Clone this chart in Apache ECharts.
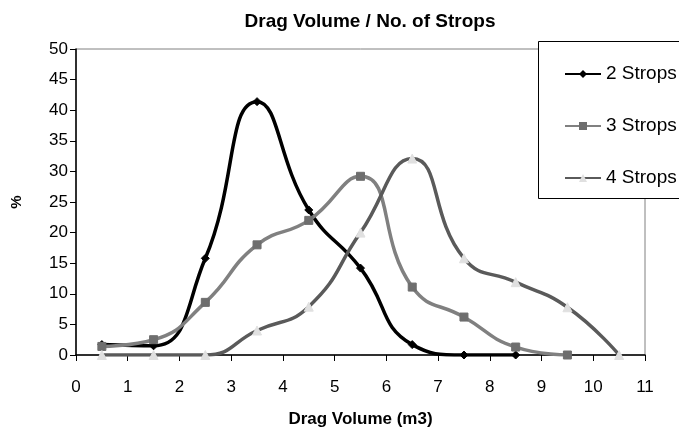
<!DOCTYPE html>
<html>
<head>
<meta charset="utf-8">
<script src="https://cdn.jsdelivr.net/npm/echarts@6/dist/echarts.min.js"></script>
<style>html,body{margin:0;padding:0;background:#fff}#c{width:679px;height:429px}</style>
</head>
<body>
<div id="c"></div>
<script>
var xValues = [0.5, 1.5, 2.5, 3.5, 4.5, 5.5, 6.5, 7.5, 8.5, 9.5, 10.5];
var strops2 = [1.7, 1.5, 15.8, 41.4, 23.7, 14.2, 1.7, 0, 0];
var strops3 = [1.4, 2.5, 8.6, 18.0, 22.0, 29.2, 11.1, 6.2, 1.3, 0];
var strops4 = [0, 0, 0, 4.0, 7.9, 20.0, 32.1, 15.8, 11.9, 7.8, 0];
var seriesNames = ['2 Strops', '3 Strops', '4 Strops'];

function pairs(vals) { return vals.map(function (v, i) { return [xValues[i], v]; }); }

var chart = echarts.init(document.getElementById('c'));
var font = 'Liberation Sans, Arial, sans-serif';
chart.setOption({
  animation: false,
  title: {
    text: 'Drag Volume / No. of Strops',
    left: 365, top: 7, textAlign: 'center',
    textStyle: { fontFamily: font, fontSize: 19, fontWeight: 'bold', color: '#000' }
  },
  grid: {
    left: 76, right: 34, top: 49, bottom: 74, show: true, borderColor: '#808080', borderWidth: 1,
    outerBoundsMode: 'none', containLabel: false
  },
  xAxis: {
    type: 'value', min: 0, max: 11, interval: 1,
    name: 'Drag Volume (m3)', nameLocation: 'middle', nameGap: 56,
    nameTextStyle: { fontFamily: font, fontSize: 17, fontWeight: 'bold', color: '#000' },
    axisLine: { lineStyle: { color: '#000', width: 1.5 } },
    axisTick: { length: 6, lineStyle: { color: '#000' } },
    axisLabel: { fontFamily: font, fontSize: 17, color: '#000', margin: 24 },
    splitLine: { show: false }
  },
  yAxis: {
    type: 'value', min: 0, max: 50, interval: 5,
    name: '%', nameLocation: 'middle', nameGap: 52, nameRotate: 90,
    nameTextStyle: { fontFamily: font, fontSize: 15, fontWeight: 'bold', color: '#000' },
    axisLine: { show: true, lineStyle: { color: '#000', width: 1.5 } },
    axisTick: { show: true, length: 6, lineStyle: { color: '#000' } },
    axisLabel: { fontFamily: font, fontSize: 17, color: '#000', margin: 8 },
    splitLine: { show: false }
  },
  graphic: [{
    type: 'rect', left: 538, top: 41, z: 90,
    shape: { width: 160, height: 157 },
    style: { fill: '#fff', stroke: '#000', lineWidth: 1 }
  }],
  legend: {
    orient: 'vertical', left: 559, top: 59, z: 100,
    itemWidth: 36, itemHeight: 10, itemGap: 32,
    textStyle: { fontFamily: font, fontSize: 19, lineHeight: 20, color: '#000' },
    data: seriesNames
  },
  series: [
    {
      name: seriesNames[0], type: 'line', smooth: 0.5, data: pairs(strops2),
      symbol: 'diamond', symbolSize: 8,
      lineStyle: { color: '#000', width: 3.5 },
      itemStyle: { color: '#000', borderColor: '#000' }, z: 3
    },
    {
      name: seriesNames[1], type: 'line', smooth: 0.5, data: pairs(strops3),
      symbol: 'rect', symbolSize: 8,
      lineStyle: { color: '#808080', width: 3.5 },
      itemStyle: { color: '#6e6e6e', borderColor: '#6e6e6e' }, z: 4
    },
    {
      name: seriesNames[2], type: 'line', smooth: 0.5, data: pairs(strops4),
      symbol: 'triangle', symbolSize: 9,
      lineStyle: { color: '#5a5a5a', width: 3.5 },
      itemStyle: { color: '#e0e0e0', borderColor: '#e0e0e0' }, z: 5
    }
  ]
});
</script>
</body>
</html>
